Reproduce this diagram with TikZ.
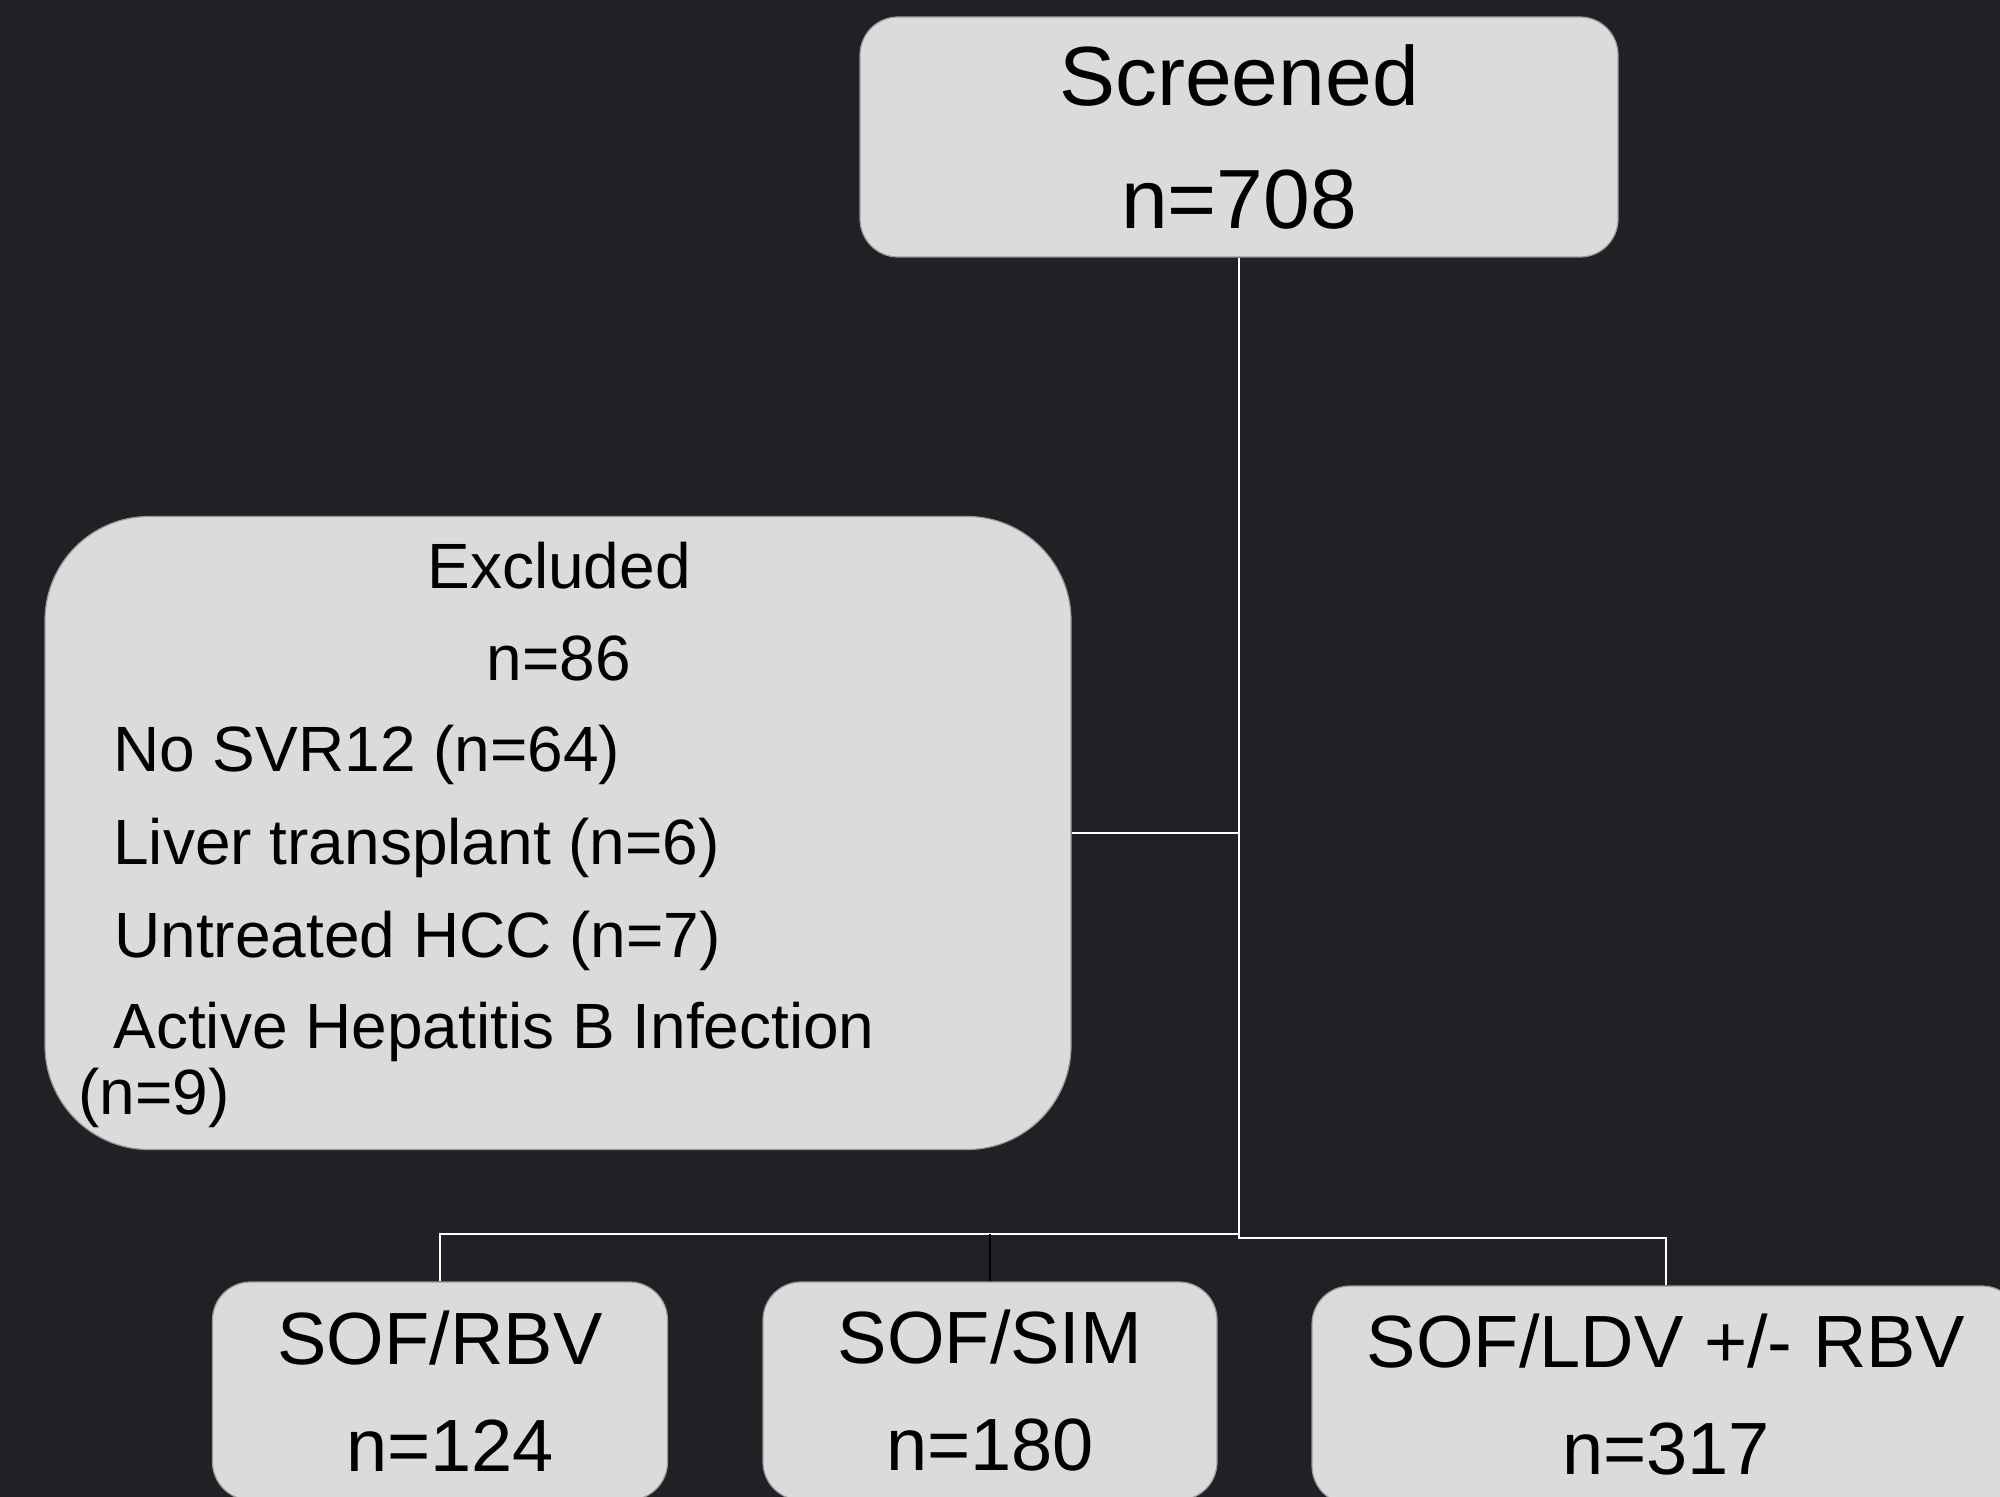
\documentclass[tikz,border=0pt]{standalone}
\usepackage{fontspec}
\setmainfont{Liberation Sans}
\usepackage{tikz}
\usetikzlibrary{positioning}
\definecolor{bgdark}{HTML}{202124}
\definecolor{boxfill}{HTML}{DBDBDB}
\definecolor{boxedge}{HTML}{9A9A9A}

\begin{document}
\begin{tikzpicture}[
  x=0.5pt, y=-0.5pt,
  panel/.style={draw=boxedge, line width=0.6pt, fill=boxfill, rounded corners=19pt,
    inner sep=0pt, align=center, text=black},
  toptxt/.style={font=\fontsize{42}{61.5}\selectfont},
  armtxt/.style={font=\fontsize{37}{53.5}\selectfont},
  extxt/.style={inner sep=0pt, text=black, font=\fontsize{32}{38}\selectfont},
  wire/.style={draw=white, line width=1.1pt},
  darkwire/.style={draw=black, line width=1pt}
  ]
  \fill[bgdark] (0,0) rectangle (2000,1497);
  \useasboundingbox (0,0) rectangle (2000,1497);
  \clip (0,0) rectangle (2000,1497);

  \node[panel, toptxt, minimum width=379pt, minimum height=120pt] (scr) at (1239,137) {Screened\\n=708};

  \node[panel, rounded corners=52pt, minimum width=513pt, minimum height=316.5pt] (excl) at (558,833) {};
  \node[extxt, anchor=base] (exhead) at (559,588) {Excluded};
  \node[extxt, anchor=base] (exn) at (559,680) {n=86};
  \node[extxt, anchor=base west] (exsvr) at (113,771) {No SVR12 (n=64)};
  \node[extxt, anchor=base west] (exlt) at (113,864) {Liver transplant (n=6)};
  \node[extxt, anchor=base west] (exhcc) at (114,957) {Untreated HCC (n=7)};
  \node[extxt, anchor=base west] (exhbv) at (113,1048) {Active Hepatitis B Infection};
  \node[extxt, anchor=base west] (exhbvn) at (78,1114) {(n=9)};

  \node[panel, armtxt, minimum width=227.5pt, minimum height=109pt] (rbv) at (440,1391) {SOF/RBV\\\hspace*{10pt}n=124};
  \node[panel, armtxt, minimum width=227pt, minimum height=109pt] (sim) at (990,1391) {SOF/SIM\\n=180};
  \node[panel, armtxt, minimum width=354pt, minimum height=109pt] (ldv) at (1666,1395) {SOF/LDV +/- RBV\\n=317};

  \coordinate (jR) at (1239,1238);
  \coordinate (jL) at (1239,1234);
  \draw[wire] (scr.south) -- (jR) -| (ldv.north);
  \draw[wire] (jL) -| (rbv.north);
  \draw[wire] (excl.east) -- (excl.east -| jR);
  \draw[darkwire] (sim.north) -- (sim.north |- jL);
\end{tikzpicture}
\end{document}
